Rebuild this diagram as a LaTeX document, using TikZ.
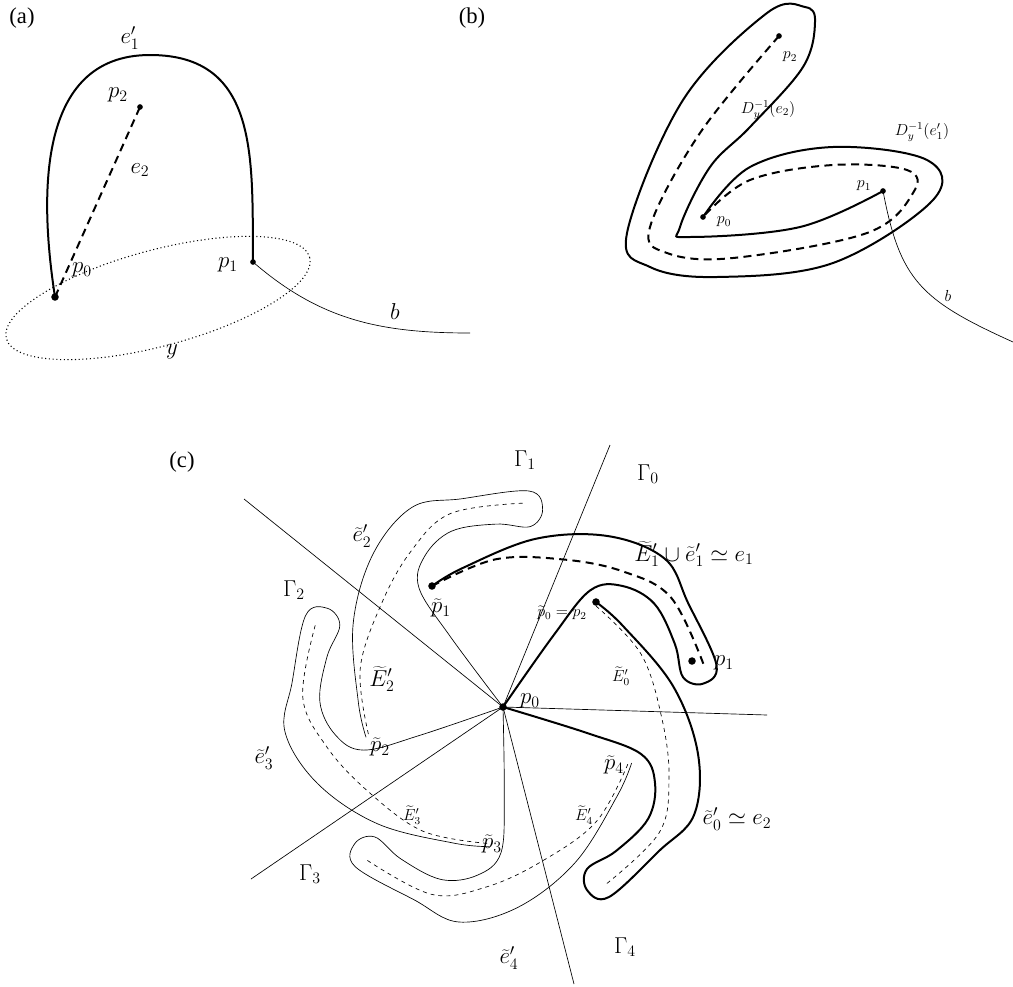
\documentclass[tikz,border=0pt]{standalone}
\usepackage[no-math]{fontspec}
\setmainfont{Liberation Serif}
\tikzset{
	dot/.style={fill,circle,inner sep=2pt},
	thickline/.style={line width=1.5pt},
	thinline/.style={line width=0.5pt},
	longdash/.style={dash pattern=on 6pt off 4pt},
	big/.style={font=\fontsize{17}{19}\selectfont},
	small/.style={font=\fontsize{12}{14}\selectfont},
}
\begin{document}
\begin{tikzpicture}[x=0.0264cm,y=-0.0264cm]
		\useasboundingbox (0,0) rectangle (1013,986);
		\node[big] (la) at (22,18) {(a)};
		\node[big] (lb) at (472,18) {(b)};
		\node[big] (lc) at (182,462) {(c)};
		% (a)
		\draw[dotted,thick] (158,298) ellipse [x radius=157,y radius=48,rotate=15];
		\draw[thickline] (55,297) .. controls (40,200) and (35,55) .. (150,55) .. controls (260,55) and (252,160) .. (253,262);
		\draw[thickline,longdash] (55,297) -- (140,107);
		\draw[thinline] (253,262) .. controls (320,320) and (380,333) .. (470,333);
		\node[dot] (a0) at (55,297) {};
		\node[dot,inner sep=1.5pt] (a1) at (253,262) {};
		\node[dot,inner sep=1.5pt] (a2) at (140,107) {};
		\node[big] at (130,38) {$e_1'$};
		\node[big] at (118,95) {$p_2$};
		\node[big] at (140,170) {$e_2$};
		\node[big] at (82,270) {$p_0$};
		\node[big] at (228,265) {$p_1$};
		\node[big] at (395,312) {$b$};
		\node[big] at (172,352) {$y$};
		% (b)
		\draw[thickline] plot[smooth,tension=0.6] coordinates {(703,217) (750,167) (833,147) (927,160) (933,200) (833,263) (717,277) (650,267) (627,233) (683,100) (767,13) (805,7) (815,22) (803,67) (750,127) (710,167) (680,227) (690,237) (800,227) (883,191)};
		\draw[thickline,longdash] plot[smooth,tension=0.6] coordinates {(779,36) (700,133) (650,227) (667,253) (733,258) (867,233) (913,193) (907,170) (833,165) (750,180) (703,217)};
		\draw[thinline] (883,191) .. controls (900,280) and (920,300) .. (1013,342);
		\node[dot,inner sep=1.5pt] (b0) at (703,217) {};
		\node[dot,inner sep=1.5pt] (b1) at (883,191) {};
		\node[dot,inner sep=1.5pt] (b2) at (779,36) {};
		\node[small] at (790,57) {$p_2$};
		\node[small] at (768,110) {$D_y^{-1}(e_2)$};
		\node[small] at (922,132) {$D_y^{-1}(e_1')$};
		\node[small] at (864,186) {$p_1$};
		\node[small] at (724,222) {$p_0$};
		\node[small] at (948,296) {$b$};
		% (c)
		\coordinate (c0) at (503,707);
		\foreach \e in {(610,445),(244,499),(767,715),(251,879),(574,984)}
			\draw[thinline] (c0) -- \e;
		\foreach \k in {0,...,4}{
			\ifnum\k<2 \def\wd{thickline}\else\def\wd{thinline}\fi
			\begin{scope}[rotate around={72*\k:(c0)}]
				\draw[\wd] plot[smooth,tension=0.6] coordinates {(596,602) (623,626) (673,686) (698,754) (694,815) (659,851) (609,897) (587,890) (587,869) (616,851) (648,819) (655,783) (641,754) (587,733) (503,707)};
				\ifnum\k=1
					\draw[thickline,longdash] plot[smooth,tension=0.6] coordinates {(596,602) (641,654) (662,719) (669,779) (659,833) (605,885)};
				\else
					\draw[thinline,dashed] plot[smooth,tension=0.6] coordinates {(596,606) (641,654) (662,719) (669,779) (659,833) (605,885)};
				\fi
			\end{scope}}
		\node[dot] (p0) at (c0) {};
		\node[dot] (q0) at (596,602) {};
		\node[dot] (q1) at (432,586) {};
		\node[dot] (p1) at (692,661) {};
		\node[big] at (525,460) {$\Gamma_1$};
		\node[big] at (648,474) {$\Gamma_0$};
		\node[big] at (294,590) {$\Gamma_2$};
		\node[big] at (310,874) {$\Gamma_3$};
		\node[big] at (625,947) {$\Gamma_4$};
		\node[big] at (362,536) {$\widetilde{e}_2'$};
		\node[big] at (264,758) {$\widetilde{e}_3'$};
		\node[big] at (509,958) {$\widetilde{e}_4'$};
		\node[big] at (694,554) {$\widetilde{E}_1'\cup\widetilde{e}_1'\simeq e_1$};
		\node[big] at (441,608) {$\widetilde{p}_1$};
		\node[small] at (562,613) {$\widetilde{p}_0=p_2$};
		\node[small] at (621,676) {$\widetilde{E}_0'$};
		\node[big] at (724,663) {$p_1$};
		\node[big] at (530,701) {$p_0$};
		\node[big] at (382,679) {$\widetilde{E}_2'$};
		\node[big] at (380,747) {$\widetilde{p}_2$};
		\node[big] at (614,765) {$\widetilde{p}_4$};
		\node[small] at (584,815) {$\widetilde{E}_4'$};
		\node[big] at (737,819) {$\widetilde{e}_0'\simeq e_2$};
		\node[small] at (412,815) {$\widetilde{E}_3'$};
		\node[big] at (492,844) {$\widetilde{p}_3$};
	\end{tikzpicture}
\end{document}
